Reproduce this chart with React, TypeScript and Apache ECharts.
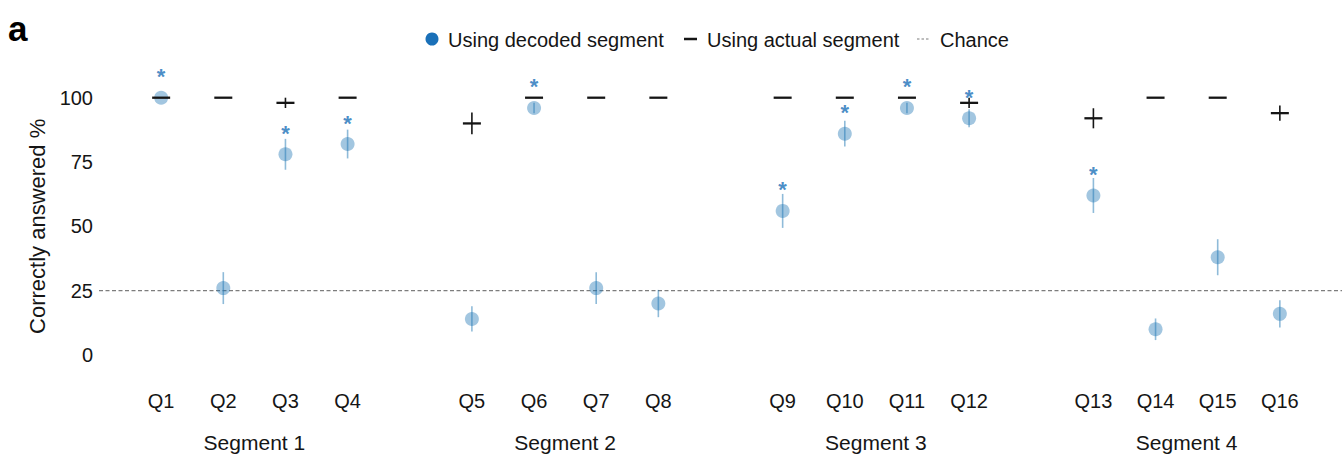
import React, { useEffect, useRef } from "react";
import * as echarts from "echarts";

// Questions grouped into four segments (four questions each)
const questions = ["Q1", "Q2", "Q3", "Q4", "Q5", "Q6", "Q7", "Q8", "Q9", "Q10", "Q11", "Q12", "Q13", "Q14", "Q15", "Q16"];
const segments = ["Segment 1", "Segment 2", "Segment 3", "Segment 4"];

// Percentage answered correctly using the decoded segment (mean and error)
const decodedPct = [100, 26, 78, 82, 14, 96, 26, 20, 56, 86, 96, 92, 62, 10, 38, 16];
const decodedErr = [0, 6.2, 6, 5.6, 4.9, 2, 6.2, 5.3, 6.6, 5, 2, 3.5, 6.8, 4.2, 7, 5.3];

// Percentage answered correctly using the actual segment (mean and error)
const actualPct = [100, 100, 98, 100, 90, 100, 100, 100, 100, 100, 100, 98, 92, 100, 100, 94];
const actualErr = [0, 0, 2, 0, 4.2, 0, 0, 0, 0, 0, 0, 2, 3.9, 0, 0, 3];

// Questions where decoded performance is significantly above chance
const significant = [true, false, true, true, false, true, false, false, true, true, true, true, true, false, false, false];

const chanceLevel = 25;
const yTicks = [0, 25, 50, 75, 100];

const FONT = "'Liberation Sans', Arial, Helvetica, sans-serif";
const BLUE = "#1a70b8";
const BLUE_SOFT = "rgba(31,119,180,0.52)";
const INK = "#151515";
const GREY = "#7d7d7d";

// slot on the x axis: four questions per segment, one empty slot between segments
const perSeg = 4;
const slotOf = (i: number) => Math.floor(i / perSeg) * (perSeg + 1) + (i % perSeg);
const qSlots = questions.map((_, i) => slotOf(i));
const segCenters = segments.map((_, s) => s * (perSeg + 1) + (perSeg - 1) / 2);

export default function App() {
  const ref = useRef<HTMLDivElement>(null);

  useEffect(() => {
    if (!ref.current) return;
    const chart = echarts.init(ref.current, undefined, { renderer: "svg" });

    const xMin = -1;
    const xMax = 19;

    const option: any = {
      animation: false,
      backgroundColor: "#ffffff",
      grid: { left: 99, top: 97.7, width: 1253.6, height: 257.3 },
      xAxis: [
        {
          type: "value",
          min: xMin,
          max: xMax,
          position: "bottom",
          axisLine: { show: false },
          axisTick: { show: false },
          splitLine: { show: false },
          axisLabel: {
            customValues: qSlots,
            formatter: (v: number) => {
              const k = qSlots.indexOf(v);
              return k >= 0 ? questions[k] : "";
            },
            margin: 36,
            fontSize: 20,
            fontFamily: FONT,
            color: INK,
          },
        },
        {
          type: "value",
          min: xMin,
          max: xMax,
          position: "bottom",
          axisLine: { show: false },
          axisTick: { show: false },
          splitLine: { show: false },
          axisLabel: {
            customValues: segCenters,
            formatter: (v: number) => {
              const k = segCenters.indexOf(v);
              return k >= 0 ? segments[k] : "";
            },
            margin: 77,
            fontSize: 21,
            fontFamily: FONT,
            color: INK,
          },
        },
      ],
      yAxis: {
        type: "value",
        min: yTicks[0],
        max: yTicks[yTicks.length - 1],
        interval: 25,
        name: "Correctly answered %",
        nameLocation: "middle",
        nameGap: 42,
        nameRotate: 90,
        nameTextStyle: { fontSize: 22, fontFamily: FONT, color: INK },
        axisLine: { show: false },
        axisTick: { show: false },
        splitLine: { show: false },
        axisLabel: { margin: 6, fontSize: 20, fontFamily: FONT, color: INK },
      },
      series: [
        {
          name: "Chance",
          type: "line",
          xAxisIndex: 0,
          data: [
            [xMin, chanceLevel],
            [xMax, chanceLevel],
          ],
          showSymbol: false,
          symbol: "none",
          lineStyle: { color: GREY, width: 1.2, type: [4, 2.5] },
          z: 1,
        },
        {
          name: "decoded error",
          type: "custom",
          xAxisIndex: 0,
          clip: false,
          data: decodedPct.map((v, i) => [qSlots[i], v, decodedErr[i]]),
          renderItem: (_p: any, api: any) => {
            const x = api.value(0);
            const v = api.value(1);
            const e = api.value(2);
            if (!e) return null;
            const a = api.coord([x, v + e]);
            const b = api.coord([x, v - e]);
            return {
              type: "line",
              shape: { x1: a[0], y1: a[1], x2: b[0], y2: b[1] },
              style: { stroke: "rgba(31,119,180,0.5)", lineWidth: 1.6 },
            };
          },
          z: 2,
        },
        {
          name: "Using decoded segment",
          type: "scatter",
          xAxisIndex: 0,
          clip: false,
          symbol: "circle",
          symbolSize: 14,
          itemStyle: { color: BLUE_SOFT },
          label: {
            show: false,
            position: "inside",
            offset: [0, -21],
            formatter: "*",
            color: BLUE,
            fontSize: 22,
            fontWeight: "bold",
            fontFamily: FONT,
          },
          data: decodedPct.map((v, i) => ({
            value: [qSlots[i], v],
            label: { show: significant[i] },
          })),
          z: 3,
        },
        {
          name: "Using actual segment",
          type: "custom",
          xAxisIndex: 0,
          clip: false,
          data: actualPct.map((v, i) => [qSlots[i], v, actualErr[i]]),
          renderItem: (_p: any, api: any) => {
            const x = api.value(0);
            const v = api.value(1);
            const e = api.value(2);
            const c = api.coord([x, v]);
            const children: any[] = [
              {
                type: "line",
                shape: { x1: c[0] - 9, y1: c[1], x2: c[0] + 9, y2: c[1] },
                style: { stroke: INK, lineWidth: 2.3 },
              },
            ];
            if (e) {
              const a = api.coord([x, v + e]);
              const b = api.coord([x, v - e]);
              children.push({
                type: "line",
                shape: { x1: c[0], y1: a[1], x2: c[0], y2: b[1] },
                style: { stroke: INK, lineWidth: 1.6 },
              });
            }
            return { type: "group", children };
          },
          z: 4,
        },
      ],
      graphic: [
        {
          type: "text",
          left: 8,
          top: 11,
          style: { text: "a", fontSize: 35, fontWeight: "bold", fontFamily: FONT, fill: "#000" },
        },
        { type: "circle", shape: { cx: 432, cy: 39, r: 6.5 }, style: { fill: BLUE } },
        {
          type: "text",
          x: 448,
          y: 40,
          style: { text: "Using decoded segment", fontSize: 20, fontFamily: FONT, fill: INK, verticalAlign: "middle" },
        },
        { type: "line", shape: { x1: 684, y1: 39, x2: 697, y2: 39 }, style: { stroke: INK, lineWidth: 2.5 } },
        {
          type: "text",
          x: 707,
          y: 40,
          style: { text: "Using actual segment", fontSize: 20, fontFamily: FONT, fill: INK, verticalAlign: "middle" },
        },
        {
          type: "line",
          shape: { x1: 917, y1: 39, x2: 930, y2: 39 },
          style: { stroke: GREY, lineWidth: 1.2, lineDash: [2.5, 2] },
        },
        {
          type: "text",
          x: 940,
          y: 40,
          style: { text: "Chance", fontSize: 20, fontFamily: FONT, fill: INK, verticalAlign: "middle" },
        },
      ],
    };

    chart.setOption(option);
    return () => chart.dispose();
  }, []);

  return (
    <div
      ref={ref}
      style={{ position: "absolute", left: 0, top: 0, width: 1342, height: 457, background: "#fff" }}
    />
  );
}
